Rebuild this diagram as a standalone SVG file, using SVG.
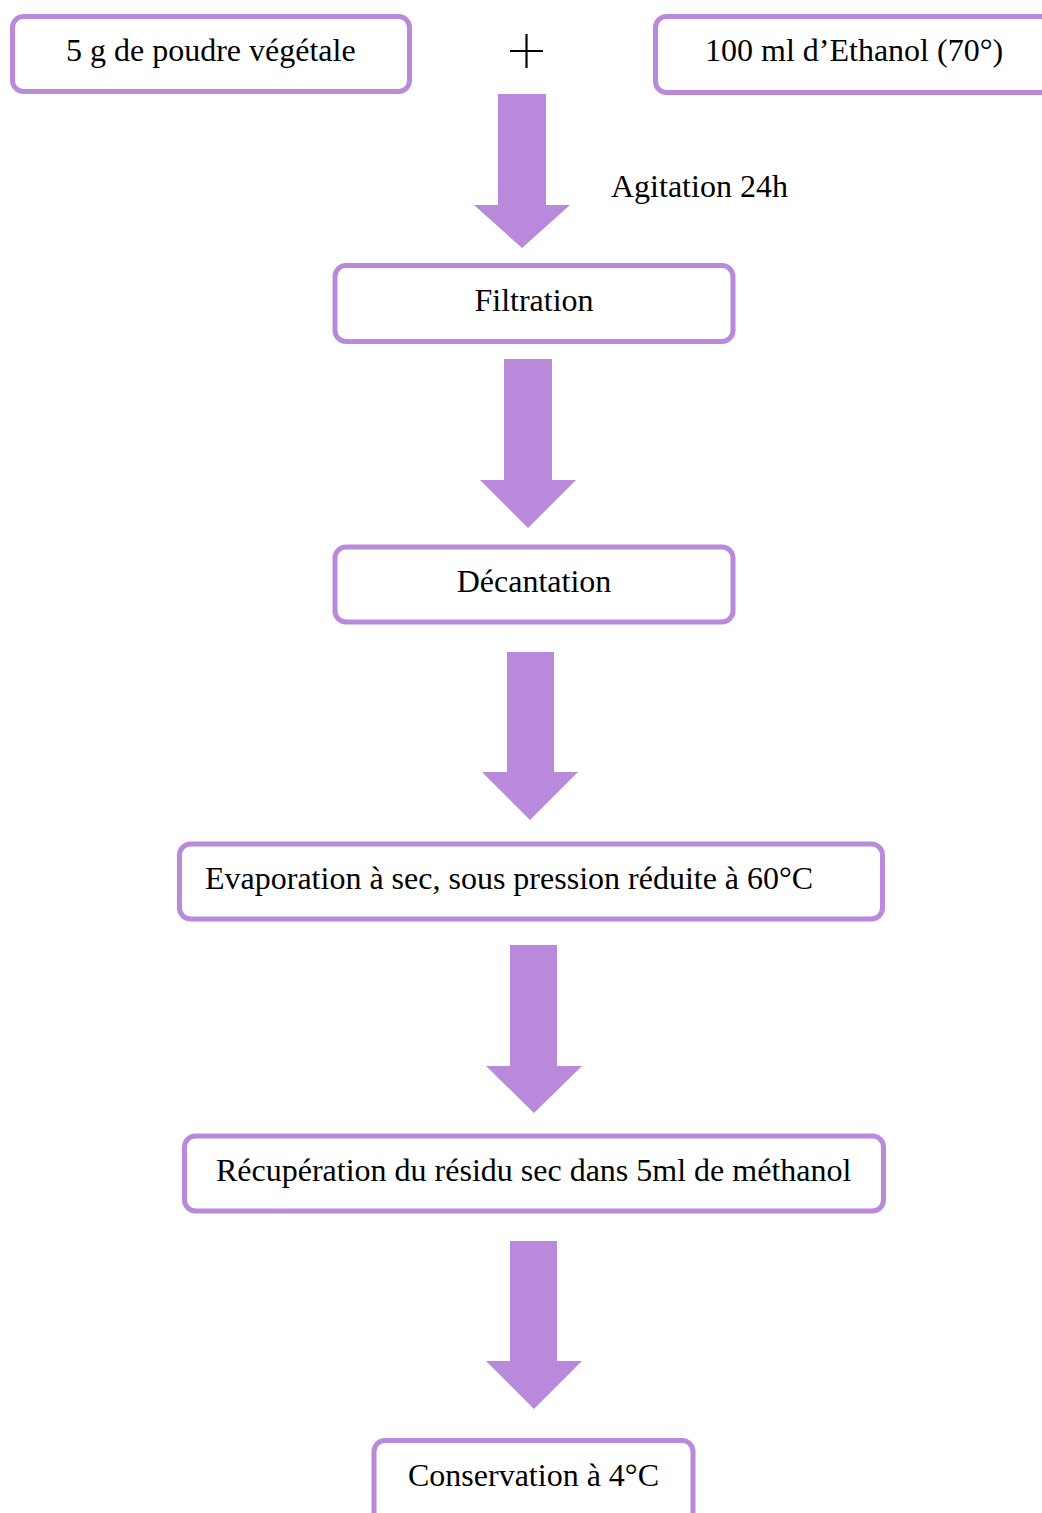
<svg xmlns="http://www.w3.org/2000/svg" width="1042" height="1513" viewBox="0 0 1042 1513">
<style>
.box{fill:#fff;stroke:#B989DB;stroke-width:5}
.arr{fill:#B989DB}
text{font-family:"Liberation Serif","Times New Roman",serif;font-size:32px;fill:#000}
</style>
<rect width="1042" height="1513" fill="#fff"/>
<g id="connectors">
<path class="arr" d="M498,94 H546 V205 H570 L522,248 L474,205 H498 Z"/>
<path class="arr" d="M504,359 H552 V480 H576 L528,528 L480,480 H504 Z"/>
<path class="arr" d="M507,652 H554 V772 H578 L530,820 L482,772 H507 Z"/>
<path class="arr" d="M510,945 H557 V1066 H582 L534,1113 L486,1066 H510 Z"/>
<path class="arr" d="M510,1241 H557 V1361 H582 L534,1409 L486,1361 H510 Z"/>
<text x="611" y="197">Agitation 24h</text>
</g>
<g id="plus">
<path d="M510,51 H543 M526.5,34 V68" stroke="#000" stroke-width="2.2" fill="none"/>
</g>
<g id="node-poudre">
<rect class="box" x="12.5" y="16.5" width="397" height="75" rx="11"/>
<text x="66" y="61">5 g de poudre végétale</text>
</g>
<g id="node-ethanol">
<rect class="box" x="655.5" y="16.5" width="420" height="76" rx="11"/>
<text x="705" y="61">100 ml d’Ethanol (70°)</text>
</g>
<g id="node-filtration">
<rect class="box" x="335" y="265.5" width="398" height="76" rx="11"/>
<text x="534" y="311" text-anchor="middle">Filtration</text>
</g>
<g id="node-decantation">
<rect class="box" x="335" y="547" width="398" height="75" rx="11"/>
<text x="534" y="592" text-anchor="middle">Décantation</text>
</g>
<g id="node-evaporation">
<rect class="box" x="179.5" y="844" width="703" height="75" rx="11"/>
<text x="205" y="889">Evaporation à sec, sous pression réduite à 60°C</text>
</g>
<g id="node-recuperation">
<rect class="box" x="184.5" y="1136" width="699" height="75" rx="11"/>
<text x="216" y="1181">Récupération du résidu sec dans 5ml de méthanol</text>
</g>
<g id="node-conservation">
<rect class="box" x="374" y="1440.5" width="319" height="90" rx="11"/>
<text x="408" y="1486">Conservation à 4°C</text>
</g>
</svg>
